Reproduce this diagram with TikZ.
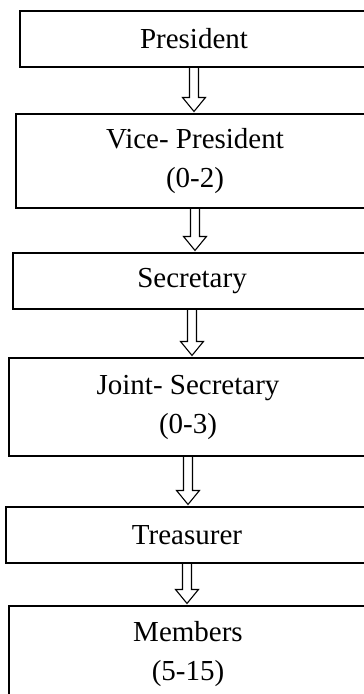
\documentclass[tikz,border=0pt]{standalone}
\usepackage{fontspec}
\setmainfont{Liberation Serif}
\usetikzlibrary{calc}

\tikzset{
  box/.style={draw, line width=1.1pt, align=center, inner sep=0pt,
    font=\fontsize{29}{39}\selectfont},
  flow/.style={draw, line width=1.1pt, to path={
    ($(\tikztostart.south)+(-4.5,0)$)
    -- ($(\tikztostart.south |- \tikztotarget.north)+(-4.5,16)$)
    -- ($(\tikztostart.south |- \tikztotarget.north)+(-11.5,16)$)
    -- ($(\tikztostart.south |- \tikztotarget.north)+(0,2)$)
    -- ($(\tikztostart.south |- \tikztotarget.north)+(11.5,16)$)
    -- ($(\tikztostart.south |- \tikztotarget.north)+(4.5,16)$)
    -- ($(\tikztostart.south)+(4.5,0)$)}}
}

\begin{document}
\begin{tikzpicture}[x=1pt, y=1pt]
\clip (0,0) rectangle (364,-694);
\path (194,-39) node[box, minimum width=348, minimum height=56] (pres) {President}
(195,-161) node[box, minimum width=358, minimum height=94] (vice) {Vice- President\\(0-2)}
(192,-281) node[box, minimum width=358, minimum height=56] (sec) {Secretary}
(188,-407) node[box, minimum width=358, minimum height=98] (jsec) {Joint- Secretary\\(0-3)}
(187,-535) node[box, minimum width=362, minimum height=56] (treas) {Treasurer}
(188,-654) node[box, minimum width=358, minimum height=96] (mem) {Members\\(5-15)};

\draw[flow] (pres) to (vice);
\draw[flow] (vice) to (sec);
\draw[flow] (sec) to (jsec);
\draw[flow] (jsec) to (treas);
\draw[flow] (treas) to (mem);
\end{tikzpicture}
\end{document}
